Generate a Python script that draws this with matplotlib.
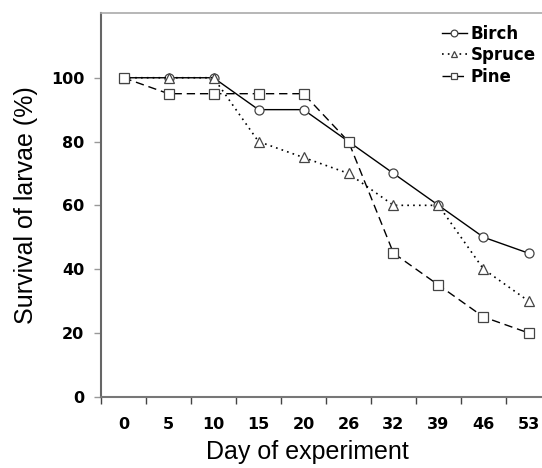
import matplotlib
matplotlib.use("Agg")
import matplotlib.pyplot as plt
import numpy as np

plt.rcParams['font.family'] = ['Liberation Sans', 'DejaVu Sans']

days = ["0", "5", "10", "15", "20", "26", "32", "39", "46", "53"]
birch = [100, 100, 100, 90, 90, 80, 70, 60, 50, 45]
spruce = [100, 100, 100, 80, 75, 70, 60, 60, 40, 30]
pine = [100, 95, 95, 95, 95, 80, 45, 35, 25, 20]
yticks = [0, 20, 40, 60, 80, 100]

tick_font = {'family': 'DejaVu Sans', 'weight': 'bold', 'size': 11.5}

fig = plt.figure(figsize=(5.42, 4.68), dpi=100)
ax = fig.add_axes([101/542, 71.3/468, 450/542, 383.7/468])

x = np.arange(len(days))
mk = dict(markerfacecolor='white', markeredgecolor='#444444', markersize=6.5, markeredgewidth=0.9)
ax.plot(x, birch, color='black', lw=1.0, ls='-', marker='o', label='Birch', **mk)
ax.plot(x, spruce, color='black', lw=1.2, ls=(0, (1, 2.5)), marker='^', label='Spruce', **mk)
ax.plot(x, pine, color='black', lw=1.0, ls=(0, (6, 3.5)), marker='s', label='Pine', **mk)

ax.set_xlim(-0.5, len(days) - 0.5)
ax.set_ylim(0, 120.3)
ax.set_xticks(x)
ax.set_xticklabels(days, fontdict=tick_font)
ax.set_xticks(np.arange(-0.5, len(days), 1.0), minor=True)
ax.tick_params(axis='x', which='major', length=0, pad=14.5)
ax.tick_params(axis='x', which='minor', length=5, width=1, color='#444444', direction='out')
ax.set_yticks(yticks)
ax.set_yticklabels([str(v) for v in yticks], fontdict=tick_font)
ax.tick_params(axis='y', length=5, width=1, color='#999999', direction='out', pad=7)

ax.spines['right'].set_visible(False)
ax.spines['left'].set_color('#666666')
ax.spines['left'].set_linewidth(1.5)
ax.spines['bottom'].set_color('#777777')
ax.spines['bottom'].set_linewidth(1.5)
ax.spines['top'].set_color('#aaaaaa')
ax.spines['top'].set_linewidth(1.2)

ax.set_xlabel('Day of experiment', fontsize=18)
ax.xaxis.set_label_coords(0.458, -0.113)
ax.xaxis.label.set_va('top')
ax.set_ylabel('Survival of larvae (%)', fontsize=18, labelpad=9)

leg = ax.legend(loc='upper left', bbox_to_anchor=(441.7/542, 1 - 25/468),
                bbox_transform=fig.transFigure, frameon=False, borderpad=0,
                handlelength=1.5, handletextpad=0.25, labelspacing=0.2,
                prop={'family': 'DejaVu Sans', 'weight': 'bold', 'size': 12},
                borderaxespad=0, markerscale=0.75)

fig.savefig('out.png', dpi=100)
